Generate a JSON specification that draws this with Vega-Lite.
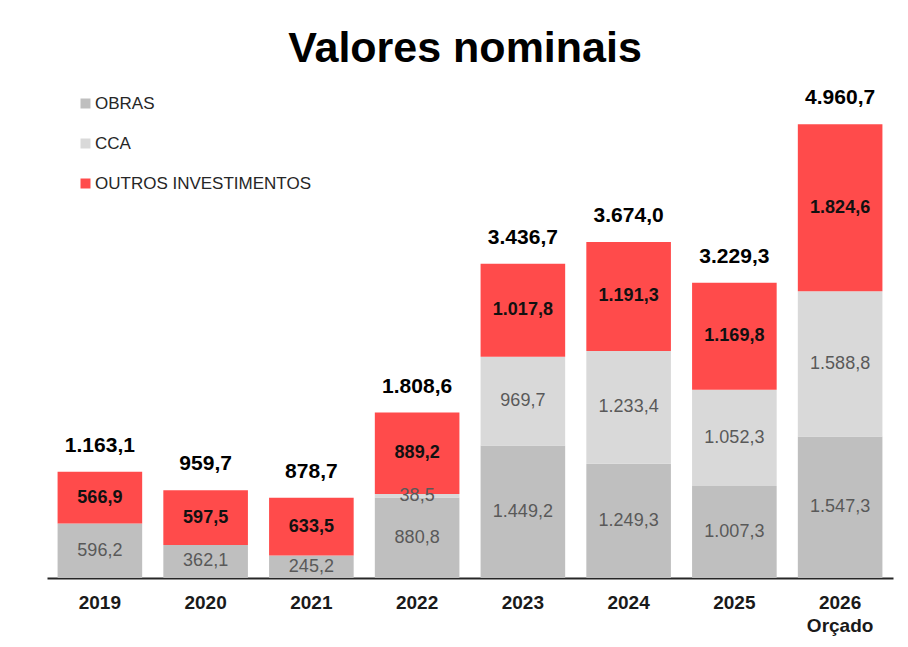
{
  "$schema": "https://vega.github.io/schema/vega-lite/v6.json",
  "width": 846,
  "height": 503,
  "autosize": {"type": "none"},
  "padding": {"left": 47, "top": 75, "right": 15, "bottom": 69},
  "background": "white",
  "title": {
    "text": "Valores nominais",
    "fontSize": 43,
    "fontWeight": "bold",
    "font": "Liberation Sans",
    "color": "#000000",
    "anchor": "middle",
    "offset": 4,
    "dx": -5
  },
  "datasets": {
    "segments": [
      {"ano": "2019", "serie": "OBRAS", "ord": 1, "valor": 596.2},
      {"ano": "2019", "serie": "OUTROS INVESTIMENTOS", "ord": 3, "valor": 566.9},
      {"ano": "2020", "serie": "OBRAS", "ord": 1, "valor": 362.1},
      {"ano": "2020", "serie": "OUTROS INVESTIMENTOS", "ord": 3, "valor": 597.5},
      {"ano": "2021", "serie": "OBRAS", "ord": 1, "valor": 245.2},
      {"ano": "2021", "serie": "OUTROS INVESTIMENTOS", "ord": 3, "valor": 633.5},
      {"ano": "2022", "serie": "OBRAS", "ord": 1, "valor": 880.8},
      {"ano": "2022", "serie": "CCA", "ord": 2, "valor": 38.5},
      {"ano": "2022", "serie": "OUTROS INVESTIMENTOS", "ord": 3, "valor": 889.2},
      {"ano": "2023", "serie": "OBRAS", "ord": 1, "valor": 1449.2},
      {"ano": "2023", "serie": "CCA", "ord": 2, "valor": 969.7},
      {"ano": "2023", "serie": "OUTROS INVESTIMENTOS", "ord": 3, "valor": 1017.8},
      {"ano": "2024", "serie": "OBRAS", "ord": 1, "valor": 1249.3},
      {"ano": "2024", "serie": "CCA", "ord": 2, "valor": 1233.4},
      {"ano": "2024", "serie": "OUTROS INVESTIMENTOS", "ord": 3, "valor": 1191.3},
      {"ano": "2025", "serie": "OBRAS", "ord": 1, "valor": 1007.3},
      {"ano": "2025", "serie": "CCA", "ord": 2, "valor": 1052.3},
      {"ano": "2025", "serie": "OUTROS INVESTIMENTOS", "ord": 3, "valor": 1169.8},
      {"ano": "2026", "serie": "OBRAS", "ord": 1, "valor": 1547.3},
      {"ano": "2026", "serie": "CCA", "ord": 2, "valor": 1588.8},
      {"ano": "2026", "serie": "OUTROS INVESTIMENTOS", "ord": 3, "valor": 1824.6}
    ],
    "totais": [
      {"ano": "2019", "total": 1163.1},
      {"ano": "2020", "total": 959.7},
      {"ano": "2021", "total": 878.7},
      {"ano": "2022", "total": 1808.6},
      {"ano": "2023", "total": 3436.7},
      {"ano": "2024", "total": 3674.0},
      {"ano": "2025", "total": 3229.3},
      {"ano": "2026", "total": 4960.7}
    ]
  },
  "encoding": {
    "x": {
      "field": "ano",
      "type": "nominal",
      "sort": ["2019", "2020", "2021", "2022", "2023", "2024", "2025", "2026"],
      "scale": {"paddingInner": 0.2, "paddingOuter": 0.1},
      "axis": {
        "title": null,
        "labelAngle": 0,
        "ticks": false,
        "domain": true,
        "domainColor": "#262626",
        "domainWidth": 2,
        "labelFont": "Liberation Sans",
        "labelFontSize": 19,
        "labelFontWeight": "bold",
        "labelColor": "#1a1a1a",
        "labelPadding": 15,
        "labelLineHeight": 23,
        "labelExpr": "datum.value == '2026' ? ['2026', 'Orçado'] : datum.label"
      }
    }
  },
  "layer": [
    {
      "data": {"name": "segments"},
      "transform": [
        {"stack": "valor", "groupby": ["ano"], "sort": [{"field": "ord", "order": "ascending"}], "as": ["v0", "v1"]}
      ],
      "mark": {"type": "bar"},
      "encoding": {
        "y": {"field": "v0", "type": "quantitative", "scale": {"domain": [0, 5500]}, "axis": null},
        "y2": {"field": "v1"},
        "color": {
          "field": "serie",
          "type": "nominal",
          "scale": {
            "domain": ["OBRAS", "CCA", "OUTROS INVESTIMENTOS"],
            "range": ["#bfbfbf", "#d9d9d9", "#ff4b4b"]
          },
          "legend": {
            "title": null,
            "orient": "none",
            "legendX": 30,
            "legendY": 20,
            "symbolType": "square",
            "symbolSize": 100,
            "symbolStrokeWidth": 0,
            "labelFont": "Liberation Sans",
            "labelFontSize": 17,
            "labelLimit": 0,
            "labelColor": "#262626",
            "labelOffset": 1,
            "rowPadding": 22
          }
        }
      }
    },
    {
      "data": {"name": "segments"},
      "transform": [
        {"stack": "valor", "groupby": ["ano"], "sort": [{"field": "ord", "order": "ascending"}], "as": ["v0", "v1"]},
        {"calculate": "(datum.v0 + datum.v1) / 2", "as": "meio"},
        {"filter": "datum.serie != 'OUTROS INVESTIMENTOS'"}
      ],
      "mark": {"type": "text", "font": "Liberation Sans", "fontSize": 18, "color": "#595959", "baseline": "middle"},
      "encoding": {
        "y": {"field": "meio", "type": "quantitative"},
        "text": {"field": "valor", "type": "quantitative", "format": ",.1f"}
      }
    },
    {
      "data": {"name": "segments"},
      "transform": [
        {"stack": "valor", "groupby": ["ano"], "sort": [{"field": "ord", "order": "ascending"}], "as": ["v0", "v1"]},
        {"calculate": "(datum.v0 + datum.v1) / 2", "as": "meio"},
        {"filter": "datum.serie == 'OUTROS INVESTIMENTOS'"}
      ],
      "mark": {"type": "text", "font": "Liberation Sans", "fontSize": 18, "fontWeight": "bold", "color": "#111111", "baseline": "middle"},
      "encoding": {
        "y": {"field": "meio", "type": "quantitative"},
        "text": {"field": "valor", "type": "quantitative", "format": ",.1f"}
      }
    },
    {
      "data": {"name": "totais"},
      "mark": {"type": "text", "font": "Liberation Sans", "fontSize": 21, "fontWeight": "bold", "color": "#000000", "baseline": "bottom", "dy": -16},
      "encoding": {
        "y": {"field": "total", "type": "quantitative"},
        "text": {"field": "total", "type": "quantitative", "format": ",.1f"}
      }
    }
  ],
  "config": {
    "locale": {"number": {"decimal": ",", "thousands": ".", "grouping": [3], "currency": ["R$", ""]}},
    "view": {"stroke": null},
    "axis": {"grid": false}
  }
}
